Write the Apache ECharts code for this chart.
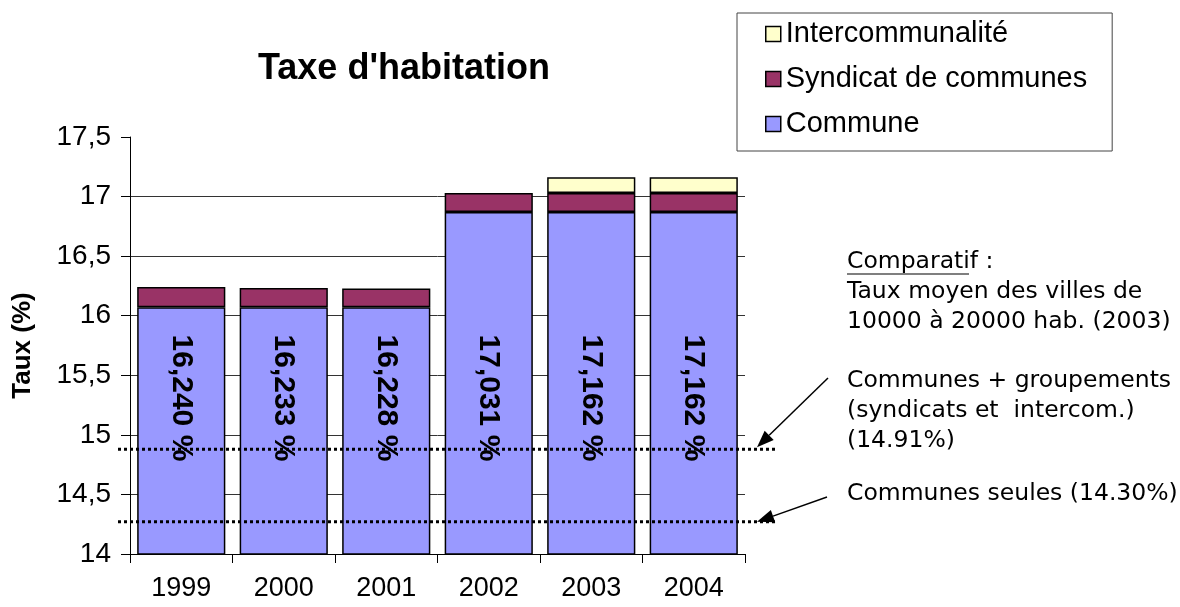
<!DOCTYPE html>
<html><head><meta charset="utf-8">
<script src="https://cdn.jsdelivr.net/npm/echarts@6/dist/echarts.min.js"></script>
<style>html,body{margin:0;padding:0;background:#fff}#c{width:1180px;height:607px}</style>
</head><body><div id="c"></div>
<script>
const years = ['1999', '2000', '2001', '2002', '2003', '2004'];
const commune = [16.07, 16.07, 16.07, 16.87, 16.87, 16.87];
const syndicat = [0.170, 0.163, 0.158, 0.161, 0.161, 0.161];
const intercom = [null, null, null, null, 0.131, 0.131];
const totalLabels = ['16,240 %', '16,233 %', '16,228 %', '17,031 %', '17,162 %', '17,162 %'];
const labelLevel = [15.31, 15.31, 15.31, 15.31, 15.31, 15.31];
const refLines = [14.88, 14.27];
const noteLines = ['Comparatif :', 'Taux moyen des villes de', '10000 à 20000 hab. (2003)',
  'Communes + groupements', '(syndicats et  intercom.)', '(14.91%)', 'Communes seules (14.30%)'];

const chart = echarts.init(document.getElementById('c'));
const AR = 'Liberation Sans, Arial, sans-serif';
const barStyle = c => ({ color: c, borderColor: '#000', borderWidth: 1.5 });

chart.setOption({
  animation: false,
  title: {
    text: "Taxe d'habitation", left: 258, top: 51, padding: 0,
    textStyle: { fontFamily: AR, fontSize: 36, fontWeight: 'bold', color: '#000' }
  },
  legend: {
    orient: 'vertical', left: 737, top: 13,
    data: ['Intercommunalité', 'Syndicat de communes', 'Commune'],
    icon: 'rect', itemWidth: 15, itemHeight: 15, itemGap: 15,
    itemStyle: { borderWidth: 1.5, borderColor: '#000' },
    padding: [6, 25, 12, 28],
    borderColor: '#444', borderWidth: 1,
    textStyle: { fontFamily: AR, fontSize: 29, color: '#000', lineHeight: 30 }
  },
  grid: { left: 130, right: 435, top: 137, bottom: 53, containLabel: false, outerBoundsMode: 'none' },
  xAxis: {
    type: 'category', data: years,
    axisLine: { lineStyle: { color: '#000', width: 1 } },
    axisTick: { show: true, length: 9, lineStyle: { color: '#000' } },
    axisLabel: { fontFamily: AR, fontSize: 27, color: '#000', margin: 21 }
  },
  yAxis: {
    type: 'value', min: 14, max: 17.5, interval: 0.5,
    name: 'Taux (%)', nameLocation: 'middle', nameGap: 94,
    nameTextStyle: { fontFamily: AR, fontSize: 26, fontWeight: 'bold', color: '#000' },
    axisLine: { show: true, lineStyle: { color: '#000', width: 1 } },
    axisTick: { show: true, length: 9, lineStyle: { color: '#000' } },
    axisLabel: { fontFamily: AR, fontSize: 28, color: '#000', margin: 19,
      formatter: v => String(v).replace('.', ',') },
    splitLine: { show: true, showMaxLine: false, lineStyle: { color: '#333', width: 1 } }
  },
  series: [
    { name: 'Commune', type: 'bar', stack: 't', data: commune, barCategoryGap: '14%', itemStyle: barStyle('#9999FF') },
    { name: 'Syndicat de communes', type: 'bar', stack: 't', data: syndicat, itemStyle: barStyle('#993366') },
    { name: 'Intercommunalité', type: 'bar', stack: 't', data: intercom, itemStyle: barStyle('#FFFFCC') },
    { name: 'labels', type: 'scatter', data: labelLevel, symbolSize: 1, itemStyle: { color: '#9999FF' }, z: 30,
      label: { show: true, position: 'inside', rotate: -90, opacity: 1,
        textBorderWidth: 0, textBorderColor: 'transparent',
        formatter: p => totalLabels[p.dataIndex],
        fontFamily: AR, fontSize: 30, fontWeight: 'bold', color: '#000' } }
  ]
});

function arrow(x1, y1, x2, y2) {
  const ang = Math.atan2(y2 - y1, x2 - x1), L = 17, W = 6.5;
  const bx = x2 - L * Math.cos(ang), by = y2 - L * Math.sin(ang);
  const px = -Math.sin(ang) * W, py = Math.cos(ang) * W;
  return [
    { type: 'line', shape: { x1, y1, x2: bx, y2: by }, style: { stroke: '#000', lineWidth: 1.5 } },
    { type: 'polygon', shape: { points: [[x2, y2], [bx + px, by + py], [bx - px, by - py]] }, style: { fill: '#000' } }
  ];
}

const ys = refLines.map(v => chart.convertToPixel({ yAxisIndex: 0 }, v));
const g = [];
ys.forEach(y => g.push({ type: 'line', z: 20, shape: { x1: 118, y1: y, x2: 778, y2: y },
  style: { stroke: '#000', lineWidth: 3, lineDash: [3, 3] } }));
g.push(...arrow(828, 378, 757, ys[0] - 2));
g.push(...arrow(827, 497, 757, ys[1]));
const noteY = [262, 292, 322, 381, 411, 441, 494];
noteLines.forEach((t, i) => g.push({ type: 'text', style: { text: t, x: 847, y: noteY[i],
  fontFamily: 'DejaVu Sans', fontSize: 23.5, fill: '#000', verticalAlign: 'middle' } }));
g.push({ type: 'line', shape: { x1: 847, y1: 274, x2: 969, y2: 274 }, style: { stroke: '#000', lineWidth: 1.2 } });
chart.setOption({ graphic: g });
</script></body></html>
